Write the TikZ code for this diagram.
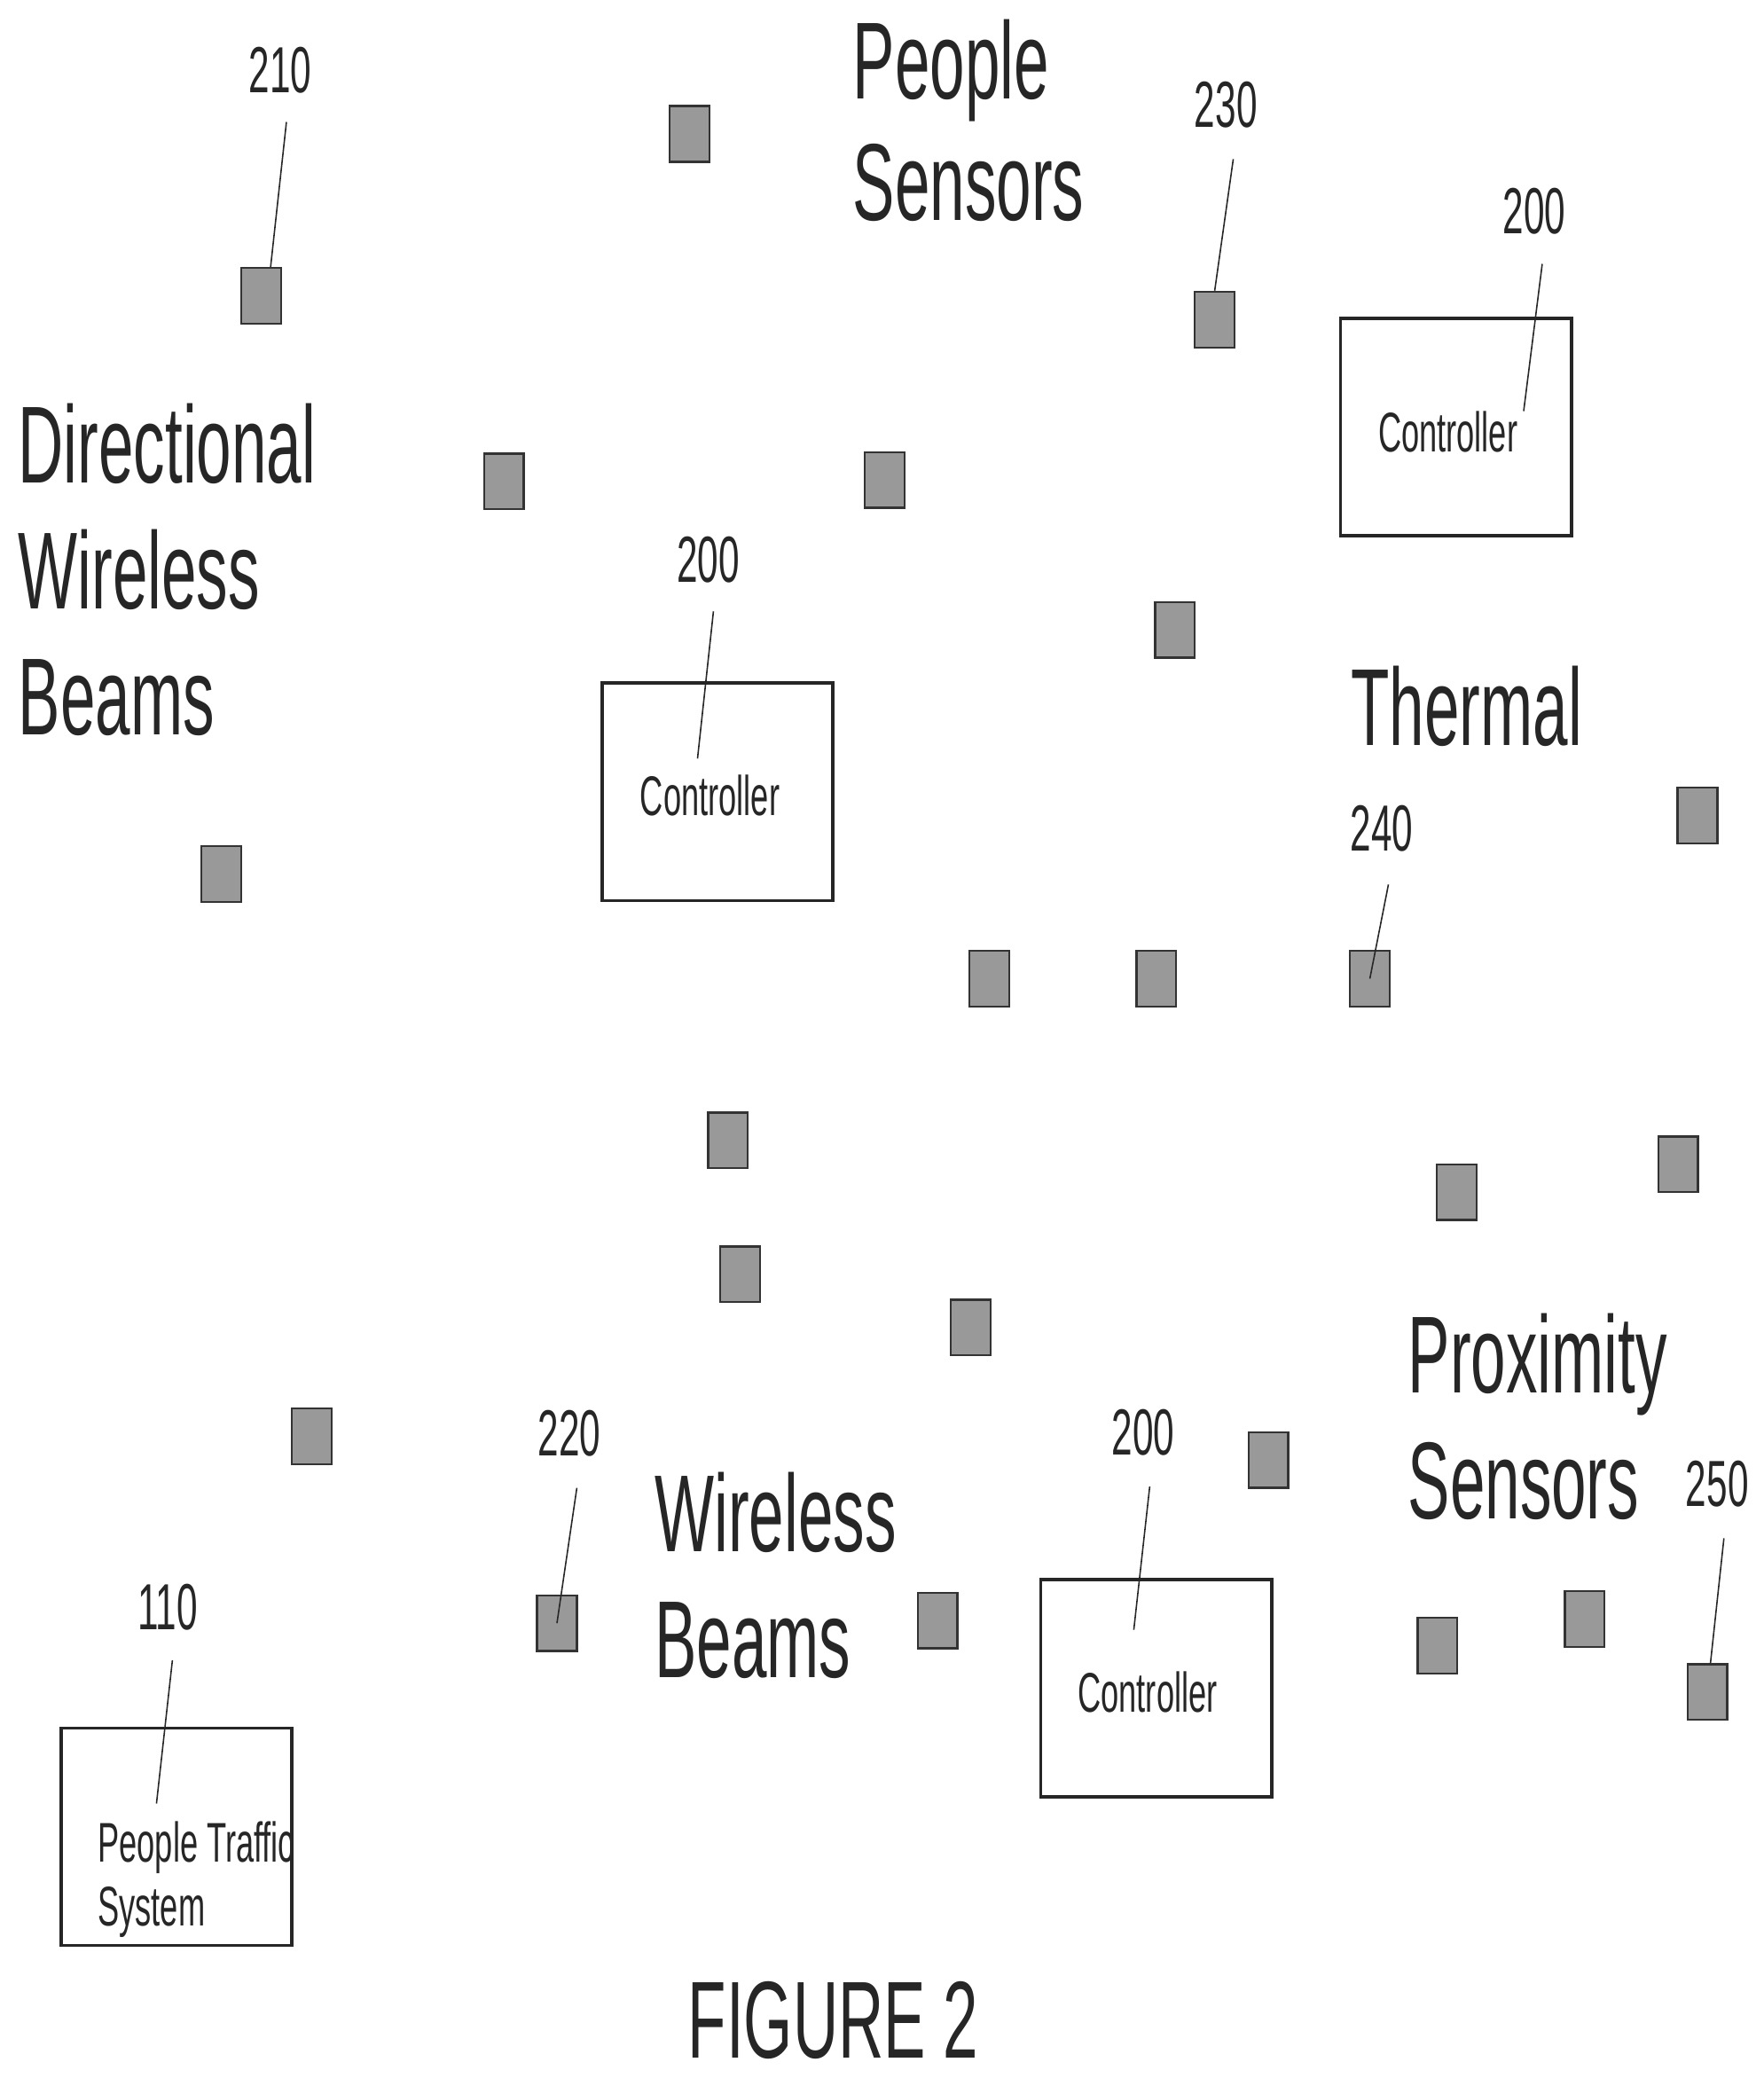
\documentclass[tikz,border=0pt]{standalone}
\usepackage{fontspec}
\newfontfamily\narrowfont[FakeStretch=0.575]{Liberation Sans}
\pgfdeclarelayer{edgelayer}
\pgfdeclarelayer{nodelayer}
\pgfsetlayers{nodelayer,edgelayer,main}
\tikzstyle{sensor}=[rectangle, fill=black!40, draw=black!80, line width=0.9pt, minimum width=0.6cm, minimum height=0.84cm, inner sep=0]
\tikzstyle{unit}=[rectangle, draw=black!85, line width=1.3pt, minimum width=3.48cm, minimum height=3.28cm, inner sep=0]
\tikzstyle{biglabel}=[anchor=base west, align=left, inner sep=0, text=black!85, font=\narrowfont\fontsize{47}{54}\selectfont]
\tikzstyle{reflabel}=[anchor=base west, inner sep=0, text=black!85, font=\narrowfont\fontsize{28}{32}\selectfont]
\tikzstyle{unitlabel}=[anchor=base west, align=left, inner sep=0, text=black!85, font=\narrowfont\fontsize{24}{27.3}\selectfont]
\tikzstyle{leader}=[-, draw=black!85, line width=0.6pt]
\begin{document}
\begin{tikzpicture}[x=0.02cm, y=-0.02cm]
            \useasboundingbox (0, 0) rectangle (1329.6, 1567);
            \begin{pgfonlayer}{nodelayer}
                \node [style=biglabel] (people) at (643, 166) {People\\[-2pt]Sensors};
                \node [style=biglabel] (directional) at (13.5, 554) {Directional\\Wireless\\Beams};
                \node [style=biglabel] (thermal) at (1018.5, 562) {Thermal};
                \node [style=biglabel] (wireless) at (493.5, 1265) {Wireless\\Beams};
                \node [style=biglabel] (proximity) at (1061.5, 1145) {Proximity\\Sensors};
                \node [style=biglabel] (figure) at (518.5, 1552) {FIGURE 2};

                \node [style=reflabel] (n210) at (187.5, 70) {210};
                \node [style=reflabel] (n230) at (900.5, 96) {230};
                \node [style=reflabel] (n200a) at (1133, 176) {200};
                \node [style=reflabel] (n200b) at (510, 439) {200};
                \node [style=reflabel] (n240) at (1018, 642) {240};
                \node [style=reflabel] (n220) at (405.5, 1098) {220};
                \node [style=reflabel] (n200c) at (838, 1097) {200};
                \node [style=reflabel] (n250) at (1271, 1136) {250};
                \node [style=reflabel] (n110) at (103.5, 1229) {110};

                \node [style=sensor] (s210) at (197, 223) {};
                \node [style=sensor] (s2) at (520, 101) {};
                \node [style=sensor] (s3) at (380, 363) {};
                \node [style=sensor] (s4) at (667, 362) {};
                \node [style=sensor] (s230) at (916, 241) {};
                \node [style=sensor] (s6) at (886, 475) {};
                \node [style=sensor] (s7) at (167, 659) {};
                \node [style=sensor] (s8) at (746, 738) {};
                \node [style=sensor] (s9) at (872, 738) {};
                \node [style=sensor] (s240) at (1033, 738) {};
                \node [style=sensor] (s11) at (1280, 615) {};
                \node [style=sensor] (s12) at (549, 860) {};
                \node [style=sensor] (s13) at (558, 961) {};
                \node [style=sensor] (s14) at (732, 1001) {};
                \node [style=sensor] (s15) at (1098.5, 899) {};
                \node [style=sensor] (s16) at (1265.5, 878) {};
                \node [style=sensor] (s17) at (235, 1083) {};
                \node [style=sensor] (s220) at (420, 1224) {};
                \node [style=sensor] (s19) at (707, 1222) {};
                \node [style=sensor] (s20) at (956.5, 1101) {};
                \node [style=sensor] (s21) at (1084, 1241) {};
                \node [style=sensor] (s22) at (1195, 1221) {};
                \node [style=sensor] (s250) at (1287.5, 1276) {};

                \node [style=unit] (ctrla) at (1098, 322) {};
                \node [style=unit] (ctrlb) at (541, 597) {};
                \node [style=unit] (ctrlc) at (872, 1273) {};
                \node [style=unit] (traffic) at (133, 1385) {};
                \node [style=unitlabel] (ta) at (1039, 341) {Controller};
                \node [style=unitlabel] (tb) at (482.5, 615) {Controller};
                \node [style=unitlabel] (tc) at (812.5, 1291) {Controller};
                \begin{scope}
                    \clip (traffic.south west) rectangle (traffic.north east);
                    \node [style=unitlabel] (tt) at (73.5, 1452) {People Traffic\\System};
                \end{scope}
            \end{pgfonlayer}
            \begin{pgfonlayer}{edgelayer}
                \coordinate (l210) at (216, 92);
                \coordinate (l230) at (930, 120);
                \coordinate (l200a) at (1163, 199);
                \coordinate (e200a) at (1149, 310);
                \coordinate (l200b) at (538, 461);
                \coordinate (e200b) at (526, 572);
                \coordinate (l240) at (1047, 667);
                \coordinate (l220) at (435, 1122);
                \coordinate (l200c) at (867, 1121);
                \coordinate (e200c) at (855, 1229);
                \coordinate (l250) at (1300, 1160);
                \coordinate (l110) at (130, 1252);
                \coordinate (e110) at (118, 1360);

                \draw [style=leader] (l210) to (s210.72);
                \draw [style=leader] (l230) to (s230.north);
                \draw [style=leader] (l200a) to (e200a);
                \draw [style=leader] (l200b) to (e200b);
                \draw [style=leader] (l240) to (s240.center);
                \draw [style=leader] (l220) to (s220.center);
                \draw [style=leader] (l200c) to (e200c);
                \draw [style=leader] (l250) to (s250);
                \draw [style=leader] (l110) to (e110);
            \end{pgfonlayer}
        \end{tikzpicture}
\end{document}
